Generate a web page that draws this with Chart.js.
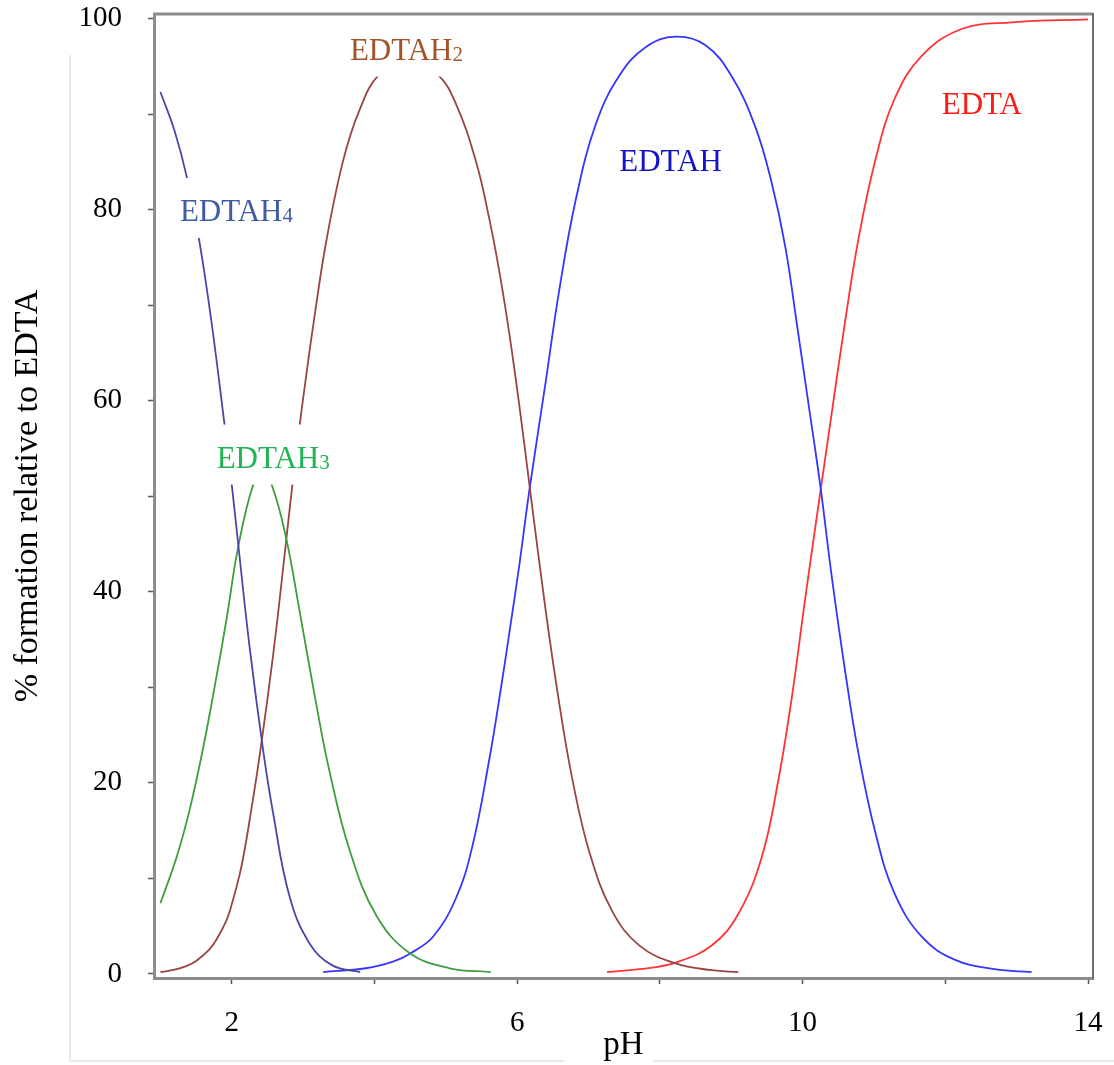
<!DOCTYPE html>
<html lang="en">
<head>
<meta charset="UTF-8">
<title>EDTA species vs pH</title>
<script src="https://cdn.jsdelivr.net/npm/chart.js"></script>
<style>
body{margin:0;background:#fff}
#box{width:1114px;height:1065px}
</style>
</head>
<body>
<div id="box"><canvas id="speciesChart" width="1114" height="1065"></canvas></div>
<script>
/* --- Data (pH, % of total EDTA) --- */
const phH4  = [1.0, 1.2, 1.37, 1.55, 1.72, 1.9, 2.0, 2.09, 2.25, 2.44, 2.58, 2.81, 3.09, 3.41, 3.8];
const pctH4 = [92.3, 88.2, 83.4, 76.5, 68, 57.4, 51.2, 45, 34.2, 23.4, 16.8, 8.1, 3.2, 0.9, 0.2];

const phH3  = [1.0, 1.23, 1.41, 1.6, 1.79, 1.93, 2.09, 2.3, 2.43, 2.56, 2.76, 2.95, 3.18, 3.37, 3.65, 4.02, 4.49, 5.05, 5.63];
const pctH3 = [7.4, 12.3, 17.2, 23.7, 31.3, 37.3, 44.7, 51.2, 52.5, 51.2, 45.7, 38, 28.4, 21.2, 13, 6.2, 2.2, 0.6, 0.2];

const phH2  = [1.0, 1.2, 1.37, 1.5, 1.69, 1.8, 1.93, 2.0, 2.11, 2.18, 2.25, 2.35, 2.44, 2.53, 2.63, 2.76, 2.87, 2.95, 3.05, 3.14, 3.32, 3.56, 3.79, 4.06, 4.47, 4.89, 5.14, 5.42, 5.61, 5.75, 5.89, 6.03, 6.17, 6.4, 6.59, 6.77, 7.01, 7.33, 7.71, 8.22, 8.73, 9.1];
const pctH2 = [0.2, 0.45, 0.85, 1.35, 2.6, 3.8, 5.7, 7.3, 10.4, 13.0, 16.1, 20.8, 25.5, 30.5, 36.5, 45.2, 52.5, 57.4, 63, 67.8, 76.5, 85.1, 90.4, 94.1, 95.8, 94.1, 91.1, 85.1, 79, 73.5, 67, 59.5, 51.3, 38, 28.3, 20.5, 12.8, 6.6, 3.0, 1.1, 0.4, 0.2];

const phH   = [3.28, 3.88, 4.26, 4.49, 4.82, 5.14, 5.37, 5.61, 5.77, 5.89, 6.03, 6.17, 6.4, 6.59, 6.82, 7.1, 7.43, 7.8, 8.22, 8.64, 9.01, 9.34, 9.57, 9.76, 9.92, 10.08, 10.25, 10.41, 10.6, 10.78, 11.02, 11.29, 11.67, 12.13, 12.69, 13.21];
const pctH  = [0.2, 0.6, 1.3, 2.1, 3.9, 7.9, 13.3, 22.5, 29.8, 35.7, 42.8, 50.6, 62, 71.6, 81, 88.9, 94, 97, 98.1, 97.2, 93.9, 88.6, 82.7, 76, 68, 59.8, 51, 41.5, 31.5, 23.2, 14.8, 8.4, 3.9, 1.5, 0.5, 0.2];

const phY   = [7.26, 7.71, 8.22, 8.73, 9.1, 9.43, 9.66, 9.85, 10.04, 10.25, 10.41, 10.6, 10.78, 11.02, 11.29, 11.67, 12.23, 12.93, 14.0];
const pctY  = [0.2, 0.5, 1.2, 3, 6.3, 12.3, 20.3, 29, 39.5, 50.5, 58.8, 68.5, 76.8, 85.2, 91.6, 96.1, 98.9, 99.6, 99.9];

const xTickValues = [2, 4, 6, 8, 10, 12, 14];
const xTickLabels = ['2', '', '6', '', '10', '', '14'];
const yTickValues = [0, 10, 20, 30, 40, 50, 60, 70, 80, 90, 100];
const yTickLabels = ['0', '', '20', '', '40', '', '60', '', '80', '', '100'];

const SERIF = "'Liberation Serif', 'Times New Roman', serif";
const pts = (xs, ys) => xs.map((x, i) => ({x: x, y: ys[i]}));

/* --- faint outer frame + top/right plot border --- */
const framePlugin = {
    id: 'frame',
    beforeDraw(chart) {
        const ctx = chart.ctx;
        ctx.save();
        ctx.strokeStyle = '#e9e9e9'; ctx.lineWidth = 2;
        ctx.beginPath();
        ctx.moveTo(70, 55); ctx.lineTo(70, 1061);
        ctx.lineTo(564, 1061);
        ctx.moveTo(653, 1061); ctx.lineTo(1114, 1061);
        ctx.stroke();
        ctx.restore();
    },
    afterDraw(chart) {
        const {ctx, chartArea: a} = chart;
        ctx.save();
        ctx.strokeStyle = '#8c8c8c'; ctx.lineWidth = 3;
        ctx.beginPath(); ctx.moveTo(a.left - 1, a.top); ctx.lineTo(a.right, a.top); ctx.stroke();
        ctx.strokeStyle = '#6e6e6e'; ctx.lineWidth = 2;
        ctx.beginPath(); ctx.moveTo(a.right, a.top - 1); ctx.lineTo(a.right, a.bottom + 1); ctx.stroke();
        ctx.restore();
    }
};

/* --- species names on white boxes that hide the curves below them --- */
const labelPlugin = {
    id: 'speciesLabels',
    afterDatasetsDraw(chart, args, opts) {
        const {ctx, scales: {x, y}} = chart;
        ctx.save();
        ctx.textAlign = 'left'; ctx.textBaseline = 'alphabetic';
        opts.items.forEach(it => {
            const px = x.getPixelForValue(it.x), py = y.getPixelForValue(it.y);
            ctx.font = opts.font; const w1 = ctx.measureText(it.main).width;
            ctx.font = opts.subFont; const w2 = it.sub ? ctx.measureText(it.sub).width : 0;
            ctx.fillStyle = '#fff';
            ctx.fillRect(px - 6, py - 43, w1 + w2 + 12, 60);
            ctx.fillStyle = it.color;
            ctx.font = opts.font; ctx.fillText(it.main, px, py);
            if (it.sub) { ctx.font = opts.subFont; ctx.fillText(it.sub, px + w1, py + 1); }
        });
        ctx.restore();
    }
};

const line = (data, color) => ({
    data: data, borderColor: color, borderWidth: 1.8, pointRadius: 0,
    fill: false, tension: 0.4
});

new Chart(document.getElementById('speciesChart'), {
    type: 'line',
    data: {
        datasets: [
            line(pts(phH4, pctH4), '#4848a8'),
            line(pts(phH3, pctH3), '#3c9e3c'),
            line(pts(phH2, pctH2), '#9a4444'),
            line(pts(phH, pctH), '#3535ff'),
            line(pts(phY, pctY), '#ff3333')
        ]
    },
    options: {
        responsive: false,
        animation: false,
        layout: {padding: {left: 0, top: 14, right: 21, bottom: 0}},
        plugins: {
            legend: {display: false},
            tooltip: {enabled: false},
            speciesLabels: {
                font: '31px ' + SERIF,
                subFont: '21px ' + SERIF,
                items: [
                    {main: 'EDTAH', sub: '4', x: 1.273, y: 78.8, color: '#3d5ca5'},
                    {main: 'EDTAH', sub: '3', x: 1.788, y: 53.0, color: '#20b454'},
                    {main: 'EDTAH', sub: '2', x: 3.656, y: 95.7, color: '#a0552a'},
                    {main: 'EDTAH', sub: '',  x: 7.43,  y: 84.0, color: '#1414c8'},
                    {main: 'EDTA',  sub: '',  x: 11.95, y: 90.0, color: '#ff1a1a'}
                ]
            }
        },
        scales: {
            x: {
                type: 'linear', min: 0.91, max: 14.07,
                afterFit: s => { s.height = 87; s.paddingLeft = 0; s.paddingRight = 0; },
                afterBuildTicks: s => { s.ticks = xTickValues.map(v => ({value: v})); },
                grid: {drawOnChartArea: false, tickLength: 6, tickWidth: 1.5, tickColor: '#555'},
                border: {color: '#8c8c8c', width: 3},
                ticks: {
                    maxRotation: 0, autoSkip: false, padding: 22, color: '#000',
                    font: {family: SERIF, size: 29},
                    callback: (v, i) => xTickLabels[i]
                },
                title: {display: true, text: 'pH', color: '#000', font: {family: SERIF, size: 33}, padding: {top: 0, bottom: 0}}
            },
            y: {
                min: -0.42, max: 100.47,
                afterFit: s => { s.width = 154; s.paddingTop = 0; s.paddingBottom = 0; },
                afterBuildTicks: s => { s.ticks = yTickValues.map(v => ({value: v})); },
                grid: {drawOnChartArea: false, tickLength: 6, tickWidth: 1.5, tickColor: '#555'},
                border: {color: '#8c8c8c', width: 3},
                ticks: {
                    autoSkip: false, padding: 26, color: '#000',
                    font: {family: SERIF, size: 29},
                    callback: (v, i) => yTickLabels[i]
                },
                title: {display: true, text: '% formation relative to EDTA', color: '#000', font: {family: SERIF, size: 34}, padding: {top: 8, bottom: 0}}
            }
        }
    },
    plugins: [framePlugin, labelPlugin]
});
</script>
</body>
</html>
